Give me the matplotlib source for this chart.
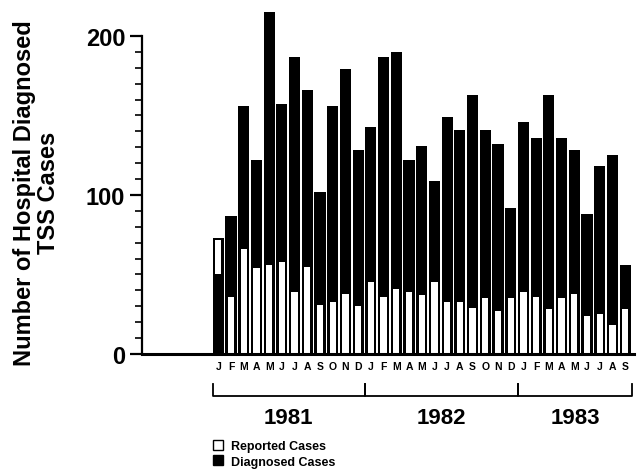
import matplotlib
matplotlib.use('Agg')
import matplotlib.pyplot as plt
from matplotlib.patches import Patch
from matplotlib.font_manager import FontProperties

# monthly TSS cases, Jan 1981 - Sep 1983
months = ['J', 'F', 'M', 'A', 'M', 'J', 'J', 'A', 'S', 'O', 'N', 'D'] * 2 + \
         ['J', 'F', 'M', 'A', 'M', 'J', 'J', 'A', 'S']
years = ['1981', '1982', '1983']
months_per_year = [12, 12, 9]

diagnosed = [50, 87, 156, 122, 215, 157, 187, 166, 102, 156, 179, 128,
             143, 187, 190, 122, 131, 109, 149, 141, 163, 141, 132, 92,
             146, 136, 163, 136, 128, 88, 118, 125, 56]
reported = [73, 36, 66, 54, 56, 58, 39, 55, 31, 33, 38, 30,
            45, 36, 41, 39, 37, 45, 33, 33, 29, 35, 27, 35,
            39, 36, 28, 35, 38, 24, 25, 18, 28]

plt.rcParams['font.family'] = ['Liberation Sans', 'DejaVu Sans']
plt.rcParams['font.weight'] = 'bold'

fig = plt.figure(figsize=(6.42, 4.77), dpi=100)
ax = fig.add_axes([0.2212, 0.2558, 0.7664, 0.6667])

x = list(range(len(months)))
outer_w = 0.87
inner_w = 0.5
border = 1.3

for i in x:
    d, r = diagnosed[i], reported[i]
    ax.bar(i, max(d, r), width=outer_w, color='black', linewidth=0, clip_on=False, zorder=2)
    if r <= d:
        ax.bar(i, r, width=inner_w, color='white', linewidth=0, clip_on=False, zorder=3)
    else:
        # reported exceeds diagnosed: white box sits above the black part
        ax.bar(i, r - d - border, bottom=d, width=inner_w, color='white',
               linewidth=0, clip_on=False, zorder=3)

ax.set_xlim(-6.0, 32.7)
ax.set_ylim(0, 200)

for s in ['top', 'right']:
    ax.spines[s].set_visible(False)
ax.spines['left'].set_linewidth(1.6)
ax.spines['bottom'].set_linewidth(2.2)
ax.spines['bottom'].set_zorder(4)

ax.set_yticks([0, 100, 200])
ax.set_yticks(range(0, 201, 10), minor=True)
ax.tick_params(axis='y', which='major', length=9, width=1.6, labelsize=17, pad=3)
ax.tick_params(axis='y', which='minor', length=5, width=1.2)

ax.set_xticks(x)
ax.set_xticklabels(months, fontsize=7.5, fontweight='bold')
ax.tick_params(axis='x', length=0, pad=5)

label_font = FontProperties(family='Liberation Sans', weight='bold', size=17)
fig.text(0.057, 0.595, 'Number of Hospital Diagnosed\nTSS Cases', rotation=90,
         ha='center', va='center', multialignment='center',
         fontproperties=label_font, linespacing=1.1)

# year brackets under the month letters
tr = ax.get_xaxis_transform()
start = 0
for yr, n in zip(years, months_per_year):
    x0 = start - 0.45
    x1 = start + n - 1 + 0.55
    ax.plot([x0, x0, x1, x1], [-0.094, -0.132, -0.132, -0.094], color='black',
            lw=1.3, transform=tr, clip_on=False)
    ax.text((x0 + x1) / 2, -0.2, yr, transform=tr, ha='center', va='center',
            fontsize=16, fontweight='bold')
    start += n

handles = [Patch(facecolor='white', edgecolor='black', linewidth=1.0, label='Reported Cases'),
           Patch(facecolor='black', edgecolor='black', label='Diagnosed Cases')]
fig.legend(handles=handles, loc='upper left', bbox_to_anchor=(0.332, 0.075),
           frameon=False, handlelength=0.8, handleheight=0.8,
           handletextpad=0.6, borderpad=0, borderaxespad=0, labelspacing=0.25,
           prop={'weight': 'bold', 'size': 9})

fig.savefig('out.png', dpi=100)
